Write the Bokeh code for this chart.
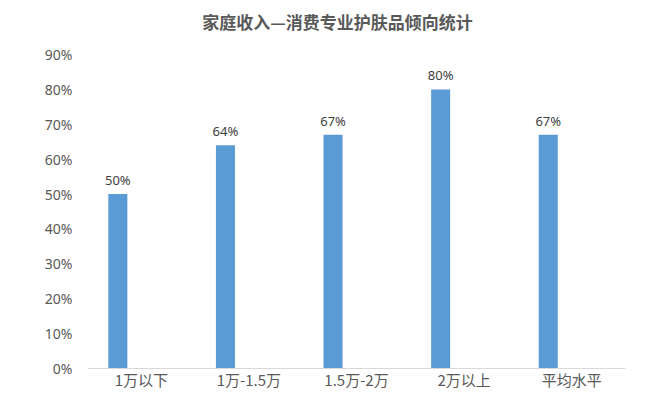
from bokeh.plotting import figure
from bokeh.models import ColumnDataSource, FactorRange, NumeralTickFormatter, FixedTicker, LabelSet, Label, Range1d
from bokeh.transform import dodge
from bokeh.core.properties import value
from bokeh.embed import file_html
from bokeh.resources import INLINE

categories = ["1万以下", "1万-1.5万", "1.5万-2万", "2万以上", "平均水平"]
values = [0.50, 0.64, 0.67, 0.80, 0.67]
labels = ["50%", "64%", "67%", "80%", "67%"]
title = "家庭收入—消费专业护肤品倾向统计"

src = ColumnDataSource(dict(cat=categories, val=values, lab=labels))

W, H = 648, 393
TOP, BOTTOM = 4, 25           # borders (px)
Y90_PX = 54                   # canvas y of the 90% line
frame_bottom = H - BOTTOM
y_end = 0.9 + 0.9 * (Y90_PX - TOP) / (frame_bottom - Y90_PX)

p = figure(width=W, height=H, output_backend="svg", toolbar_location=None,
           x_range=FactorRange(*categories, range_padding=0), y_range=Range1d(0, y_end),
           min_border_left=87, min_border_right=23, min_border_top=TOP, min_border_bottom=BOTTOM)

p.add_layout(Label(x=len(categories) / 2, y=0.9, text=title, x_offset=-19, y_offset=33,
                   text_align="center", text_baseline="middle",
                   text_font="Noto Sans CJK SC", text_font_size="17px",
                   text_font_style="bold", text_color="#595959"))

p.vbar(x=dodge("cat", -0.218, range=p.x_range), top="val", width=0.177, source=src,
       color="#5B9BD5", line_color=None)

lbl = LabelSet(x=dodge("cat", -0.218, range=p.x_range), y="val", text="lab", source=src,
               text_align="center", text_baseline="bottom", y_offset=5,
               text_font_size="13px", text_color="#404040", text_font=value("Noto Sans"))
p.add_layout(lbl)

p.outline_line_color = None
p.grid.grid_line_color = None
p.background_fill_color = "white"
p.border_fill_color = "white"

p.xaxis.axis_line_color = "#D9D9D9"
p.xaxis.major_tick_line_color = None
p.xaxis.minor_tick_line_color = None
p.xaxis.major_tick_out = 0
p.xaxis.minor_tick_out = 0
p.xaxis.major_label_text_font = "Noto Sans CJK SC"
p.xaxis.major_label_text_font_size = "15px"
p.xaxis.major_label_text_color = "#595959"
p.xaxis.major_label_standoff = 0

p.yaxis.ticker = FixedTicker(ticks=[i / 10 for i in range(10)])
p.yaxis.formatter = NumeralTickFormatter(format="0%")
p.yaxis.axis_line_color = None
p.yaxis.major_tick_line_color = None
p.yaxis.minor_tick_line_color = None
p.yaxis.major_tick_out = 0
p.yaxis.minor_tick_out = 0
p.yaxis.major_label_text_font = "Noto Sans"
p.yaxis.major_label_text_font_size = "14px"
p.yaxis.major_label_text_color = "#595959"
p.yaxis.major_label_standoff = 15

open("out.html", "w").write(file_html(p, INLINE))
